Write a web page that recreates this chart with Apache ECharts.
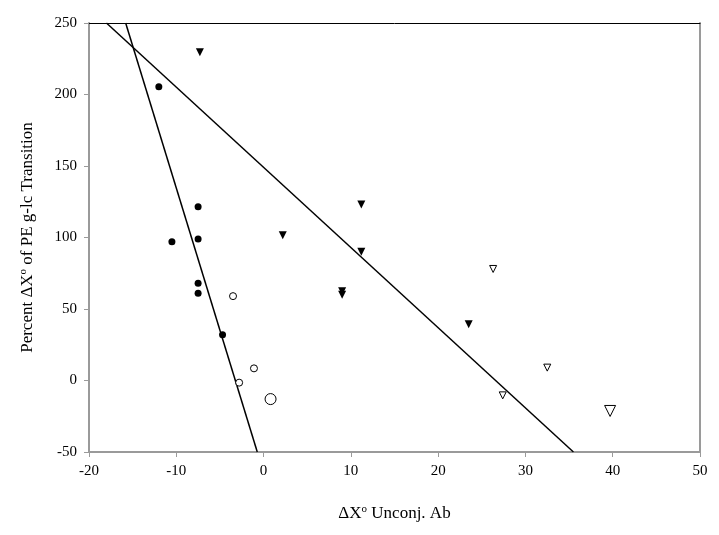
<!DOCTYPE html>
<html lang="en">
<head>
    <meta charset="UTF-8">
    <script src="https://cdn.jsdelivr.net/npm/echarts@6/dist/echarts.min.js"></script>
    <title>Percent vs Unconj. Ab</title>
</head>
<body style="margin:0;background:#fff;">
<div id="main" style="width: 719px;height:535px;"></div>
<script type="text/javascript">
        // data
        var filledCircles = [[-12, 205.5], [-7.5, 121.5], [-10.5, 97], [-7.5, 99], [-7.5, 68], [-7.5, 61], [-4.7, 32]];
        var openCircles = [[-3.5, 59], [-1.1, 8.5], [-2.8, -1.5]];
        var bigOpenCircle = [[0.8, -13]];
        var filledTriangles = [[-7.3, 229.5], [2.2, 101.5], [11.2, 123], [11.2, 90], [9, 62.5], [9, 60], [23.5, 39.3]];
        var openTriangles = [[26.3, 78], [32.5, 9], [27.4, -10.4]];
        var bigOpenTriangle = [[39.7, -21.3]];
        var steepFit = [[-15.8, 250], [-0.72, -50]];
        var shallowFit = [[-18, 250], [35.5, -50]];
        var xTicks = [-20, 50, 10];   // min, max, step
        var yTicks = [-50, 250, 50];

        var myChart = echarts.init(document.getElementById('main'));
        var font = 'Liberation Serif, Times New Roman, serif';
        var grey = '#9a9a9a';

        function pts(data, symbol, size, filled, rotate) {
            return {
                type: 'scatter',
                data: data,
                symbol: symbol,
                symbolSize: size,
                symbolRotate: rotate || 0,
                itemStyle: {
                    color: filled ? '#000' : '#fff',
                    borderColor: '#000',
                    borderWidth: filled ? 0 : 1,
                    opacity: 1
                },
                z: 3
            };
        }
        function fit(data) {
            return {
                type: 'line',
                data: data,
                symbol: 'none',
                lineStyle: { color: '#000', width: 1.5 },
                z: 2
            };
        }
        var supStyle = { sup: { fontFamily: font, fontSize: 11, verticalAlign: 'top', padding: [0, 0, 8, 0] } };

        option = {
            animation: false,
            grid: { left: 89, right: 19, top: 23, bottom: 83 },
            xAxis: [{
                type: 'value',
                min: xTicks[0], max: xTicks[1], interval: xTicks[2],
                name: 'ΔX{sup|o} Unconj. Ab',
                nameLocation: 'middle',
                nameGap: 52,
                nameTextStyle: { fontFamily: font, fontSize: 17, color: '#000', rich: supStyle },
                axisLine: { onZero: false, lineStyle: { color: grey, width: 2 } },
                axisTick: { inside: false, length: 5, lineStyle: { color: grey } },
                axisLabel: { fontFamily: font, fontSize: 15, color: '#000', margin: 12 },
                splitLine: { show: false }
            }, {
                type: 'value', position: 'top',
                min: xTicks[0], max: xTicks[1],
                axisLine: { onZero: false, lineStyle: { color: '#000', width: 1 } },
                axisTick: { show: false }, axisLabel: { show: false }, splitLine: { show: false }
            }],
            yAxis: [{
                type: 'value',
                min: yTicks[0], max: yTicks[1], interval: yTicks[2],
                name: 'Percent ΔX{sup|o} of PE g-lc Transition',
                nameLocation: 'middle',
                nameGap: 52,
                nameTextStyle: { fontFamily: font, fontSize: 17, color: '#000', rich: supStyle },
                axisLine: { show: true, onZero: false, lineStyle: { color: grey, width: 2 } },
                axisTick: { show: true, inside: false, length: 5, lineStyle: { color: grey } },
                axisLabel: { fontFamily: font, fontSize: 15, color: '#000', margin: 12 },
                splitLine: { show: false }
            }, {
                type: 'value', position: 'right',
                min: yTicks[0], max: yTicks[1],
                axisLine: { show: true, onZero: false, lineStyle: { color: grey, width: 2 } },
                axisTick: { show: false }, axisLabel: { show: false }, splitLine: { show: false }
            }],
            series: [
                fit(steepFit),
                fit(shallowFit),
                pts(filledCircles, 'circle', 7, true),
                pts(openCircles, 'circle', 7, false),
                pts(bigOpenCircle, 'circle', 11, false),
                pts(filledTriangles, 'triangle', 8, true, 180),
                pts(openTriangles, 'triangle', 7, false, 180),
                pts(bigOpenTriangle, 'triangle', 11, false, 180)
            ]
        };

        myChart.setOption(option);
    </script>
</body>
</html>
